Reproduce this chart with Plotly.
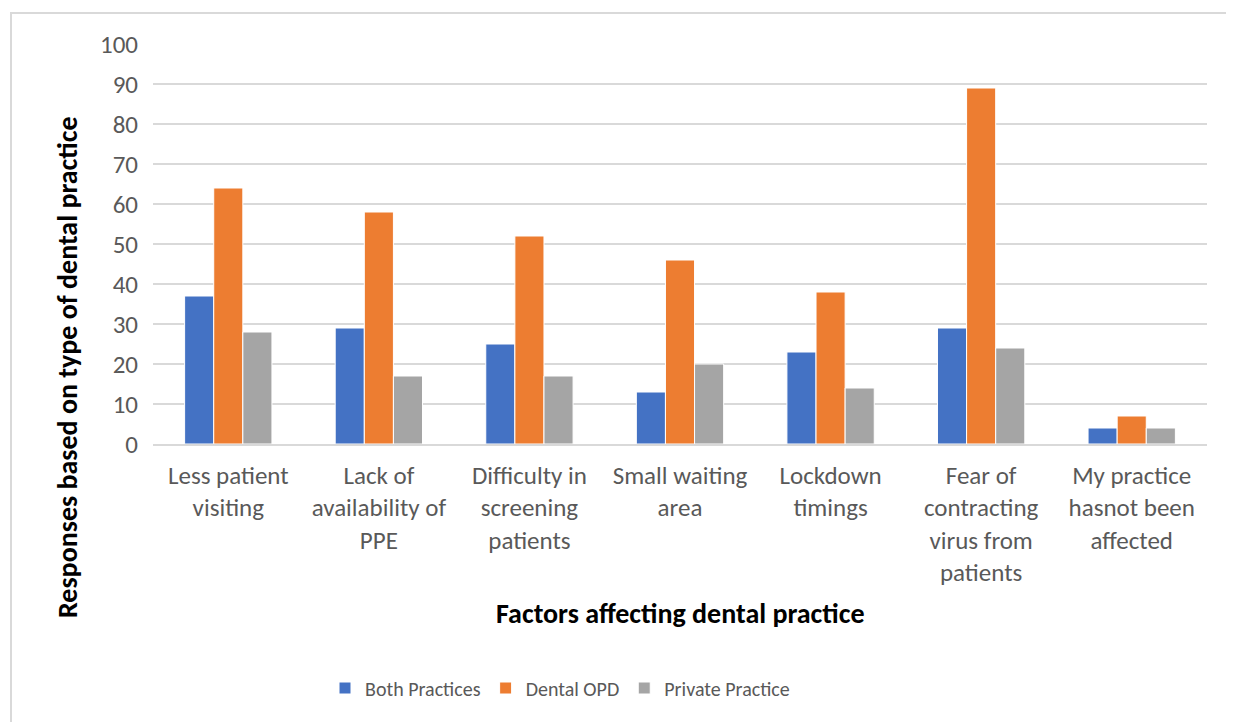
import plotly.graph_objs as go

# page body adds an 8px margin, so figure coordinates are shifted by that amount
OFF = 8
W, H = 1234 - OFF, 722 - OFF
ML, MR, MT, MB = 153 - OFF, 27, 44 - OFF, 278

categories = [
    "Less patient<br>visiting",
    "Lack of<br>availability of<br>PPE",
    "Difficulty in<br>screening<br>patients",
    "Small waiting<br>area",
    "Lockdown<br>timings",
    "Fear of<br>contracting<br>virus from<br>patients",
    "My practice<br>hasnot been<br>affected",
]
both_practices = [37, 29, 25, 13, 23, 29, 4]
dental_opd = [64, 58, 52, 46, 38, 89, 7]
private_practice = [28, 17, 17, 20, 14, 24, 4]

series = [
    ("Both Practices", both_practices, "#4472C4"),
    ("Dental OPD", dental_opd, "#ED7D31"),
    ("Private Practice", private_practice, "#A5A5A5"),
]

font_family = "Carlito, Calibri, 'Open Sans', sans-serif"

fig = go.Figure()
for name, vals, col in series:
    fig.add_trace(go.Bar(x=categories, y=vals, name=name,
                         marker=dict(color=col, line=dict(color="white", width=1))))

pw = W - ML - MR
ph = H - MT - MB


def px(x):
    return (x - OFF - ML) / pw


def py(y):
    return (H - MB - (y - OFF)) / ph


fig.update_layout(
    width=W, height=H,
    margin=dict(l=ML, r=MR, t=MT, b=MB),
    paper_bgcolor="white", plot_bgcolor="white",
    font=dict(family=font_family, color="#595959", size=25),
    barmode="group", bargap=0.42, bargroupgap=0,
    showlegend=True,
    legend=dict(orientation="h", x=px(560), xanchor="center", y=py(688), yanchor="middle",
                font=dict(size=20, color="#595959"), traceorder="normal"),
    shapes=[dict(type="rect", xref="paper", yref="paper",
                 x0=px(11), x1=px(1250), y0=py(740), y1=py(13),
                 line=dict(color="#D9D9D9", width=2), fillcolor="rgba(0,0,0,0)", layer="below")],
    annotations=[
        dict(text="<b>Responses based on type of dental practice</b>", xref="paper", yref="paper",
             x=px(67), y=py(368), textangle=-90, showarrow=False,
             xanchor="center", yanchor="middle", font=dict(size=28, color="black")),
        dict(text="<b>Factors affecting dental practice</b>", xref="paper", yref="paper",
             x=px(680), y=py(613), showarrow=False,
             xanchor="center", yanchor="middle", font=dict(size=28, color="black")),
    ],
)

fig.update_yaxes(range=[0, 100], dtick=10, showgrid=True, gridcolor="#D9D9D9", gridwidth=1.5,
                 zeroline=False, showline=False, ticks="", ticklabelstandoff=14, automargin=False)
fig.update_xaxes(showline=True, linecolor="#D9D9D9", linewidth=1.5, ticks="",
                 ticklabelstandoff=8, automargin=False)

fig.write_html("out.html")
